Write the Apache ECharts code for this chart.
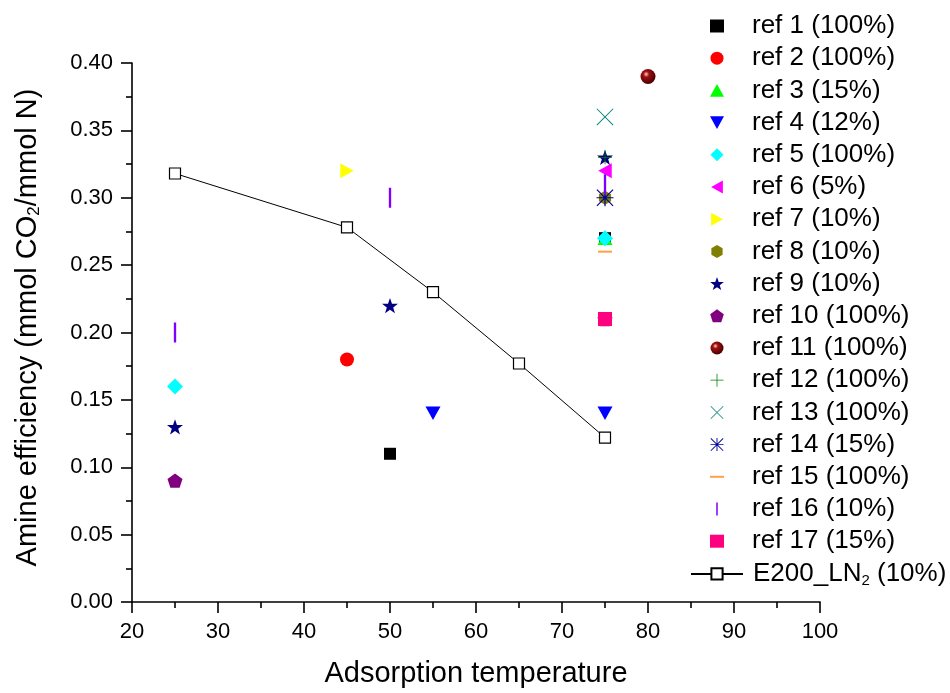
<!DOCTYPE html>
<html>
<head>
    <meta charset="utf-8">
    <script src="https://cdn.jsdelivr.net/npm/echarts@6/dist/echarts.min.js"></script>
    <style type="text/css">
        html, body { width: 100%; height: 100%; margin: 0; background: #fff; }
        #chart_main { width: 950px; height: 693px; }
    </style>
</head>
<body>
<div id="chart_main"></div>
<script type="text/javascript">
    // series data, [temperature, amine efficiency]
    var ref1 = [[50, 0.11], [75, 0.27]];
    var ref2 = [[45, 0.18]];
    var ref3 = [[75, 0.27]];
    var ref4 = [[55, 0.14], [75, 0.14]];
    var ref5 = [[25, 0.16], [75, 0.27]];
    var ref6 = [[75, 0.32]];
    var ref7 = [[45, 0.32]];
    var ref8 = [[75, 0.30]];
    var ref9 = [[25, 0.13], [50, 0.22], [75, 0.33]];
    var ref10 = [[25, 0.09], [75, 0.21]];
    var ref11 = [[80, 0.39]];
    var ref12 = [[75, 0.33]];
    var ref13 = [[75, 0.36]];
    var ref14 = [[75, 0.30]];
    var ref15 = [[75, 0.26]];
    var ref16 = [[25, 0.20], [50, 0.30], [75, 0.31]];
    var ref17 = [[75, 0.21]];
    var e200Temp = [25, 45, 55, 65, 75];
    var e200Eff = [0.318, 0.278, 0.230, 0.177, 0.122];

    var refNames = ['ref 1 (100%)', 'ref 2 (100%)', 'ref 3 (15%)', 'ref 4 (12%)', 'ref 5 (100%)',
        'ref 6 (5%)', 'ref 7 (10%)', 'ref 8 (10%)', 'ref 9 (10%)', 'ref 10 (100%)',
        'ref 11 (100%)', 'ref 12 (100%)', 'ref 13 (100%)', 'ref 14 (15%)', 'ref 15 (100%)',
        'ref 16 (10%)', 'ref 17 (15%)'];
    var lineName = 'E200_LN2 (10%)';

    var xTicks = [20, 100, 10];
    var yTicks = [0, 0.40, 0.05];

    // marker shapes
    var starPath = 'path://M10,0L12.35,6.76L19.51,6.91L13.8,11.24L15.88,18.09L10,14L4.12,18.09L6.2,11.24L0.49,6.91L7.65,6.76Z';
    var hexPath = 'path://M10,0L18.66,5L18.66,15L10,20L1.34,15L1.34,5Z';
    var pentPath = 'path://M10,0L19.51,6.91L15.88,18.09L4.12,18.09L0.49,6.91Z';
    var plusPath = 'path://M9.4,0h1.2v20h-1.2zM0,9.4h20v1.2h-20z';
    var crossPath = 'path://M0,0.8L0.8,0L20,19.2L19.2,20ZM19.2,0L20,0.8L0.8,20L0,19.2Z';
    var asteriskPath = 'path://M9.3,0h1.4v20h-1.4zM0,9.3h20v1.4h-20zM0,1L1,0L20,19L19,20ZM19,0L20,1L1,20L0,19Z';
    var upPath = 'path://M5,0L10,9L0,9Z';
    var downPath = 'path://M0,0L10,0L5,9Z';
    var leftPath = 'path://M0,5L9,0L9,10Z';
    var rightPath = 'path://M0,0L9,5L0,10Z';
    var diamondPath = 'path://M5,0L10,5L5,10L0,5Z';
    var dashPath = 'path://M0,0h10v1.4h-10z';
    var vbarPath = 'path://M0,0h1.4v12h-1.4z';

    var sphere = {
        type: 'radial', x: 0.38, y: 0.35, r: 0.65,
        colorStops: [{offset: 0, color: '#ffd0d0'}, {offset: 0.3, color: '#a01010'}, {offset: 1, color: '#4a0000'}]
    };

    var refStyle = [
        ['rect', 12, '#000000'],
        ['circle', 14, '#ff0000'],
        [upPath, 15, '#00ff00'],
        [downPath, 15, '#0000ff'],
        [diamondPath, 16, '#00ffff'],
        [leftPath, 15, '#ff00ff'],
        [rightPath, 15, '#ffff00'],
        [hexPath, 14, '#808000'],
        [starPath, 16, '#000080'],
        [pentPath, 15, '#800080'],
        ['circle', 15, sphere],
        [plusPath, 14, '#008000'],
        [crossPath, 17, '#008080'],
        [asteriskPath, 17, '#0000a0'],
        [dashPath, 14, '#ffa040'],
        [vbarPath, 20, '#8000ff'],
        ['rect', 14, '#ff0080']
    ];
    var refData = [ref1, ref2, ref3, ref4, ref5, ref6, ref7, ref8, ref9, ref10,
        ref11, ref12, ref13, ref14, ref15, ref16, ref17];

    var series = [];
    for (var i = 0; i < refData.length; i++) {
        series.push({
            name: refNames[i],
            type: 'scatter',
            symbol: refStyle[i][0],
            symbolSize: refStyle[i][1],
            symbolKeepAspect: true,
            itemStyle: {color: refStyle[i][2], opacity: 1},
            data: refData[i]
        });
    }
    series.push({
        name: lineName,
        type: 'line',
        symbol: 'rect',
        symbolSize: 11,
        showAllSymbol: true,
        lineStyle: {color: '#000', width: 1},
        itemStyle: {color: '#fff', borderColor: '#000', borderWidth: 1.2},
        data: e200Temp.map(function (t, k) { return [t, e200Eff[k]]; }),
        z: 1
    });

    var fontFam = 'Liberation Sans, Arial, sans-serif';
    var rowH = 32.2;
    var legendText = {
        fontFamily: fontFam, fontSize: 26, color: '#000', lineHeight: 28,
        rich: {sub: {fontFamily: fontFam, fontSize: 15, lineHeight: 28, padding: [14, 0, 0, 0]}}
    };
    var option = {
        animation: false,
        backgroundColor: '#fff',
        grid: {left: 132, right: 130, top: 63, bottom: 86},
        legend: [{
            orient: 'vertical',
            left: 710, top: 12, padding: 0,
            itemWidth: 14, itemHeight: 13,
            itemGap: rowH - 28,
            data: refNames,
            textStyle: Object.assign({padding: [0, 0, 0, 23]}, legendText)
        }, {
            orient: 'vertical',
            left: 690, top: 12 + 17 * rowH, padding: 0,
            itemWidth: 52, itemHeight: 14,
            data: [lineName],
            formatter: function () { return 'E200_LN{sub|2} (10%)'; },
            textStyle: Object.assign({padding: [0, 0, 0, 5]}, legendText)
        }],
        xAxis: {
            type: 'value',
            min: xTicks[0], max: xTicks[1], interval: xTicks[2],
            name: 'Adsorption temperature',
            nameLocation: 'middle', nameGap: 57,
            nameTextStyle: {fontFamily: fontFam, fontSize: 29, color: '#000'},
            axisLine: {lineStyle: {color: '#000', width: 1.6}},
            axisTick: {length: 11, lineStyle: {width: 1.6}},
            minorTick: {show: true, splitNumber: 2, length: 6, lineStyle: {color: '#000', width: 1.6}},
            splitLine: {show: false},
            axisLabel: {fontFamily: fontFam, fontSize: 22, color: '#000', margin: 19}
        },
        yAxis: {
            type: 'value',
            min: yTicks[0], max: yTicks[1], interval: yTicks[2],
            name: 'Amine efficiency (mmol CO{sub|2}/mmol N)',
            nameLocation: 'middle', nameGap: 89,
            nameTextStyle: {
                fontFamily: fontFam, fontSize: 29, color: '#000',
                padding: [0, 0, 0, 10],
                rich: {sub: {fontFamily: fontFam, fontSize: 17, padding: [14, 0, 0, 0]}}
            },
            axisLine: {show: true, lineStyle: {color: '#000', width: 1.6}},
            axisTick: {show: true, length: 11, lineStyle: {width: 1.6}},
            minorTick: {show: true, splitNumber: 2, length: 6, lineStyle: {color: '#000', width: 1.6}},
            splitLine: {show: false},
            axisLabel: {
                fontFamily: fontFam, fontSize: 22, color: '#000', margin: 19,
                formatter: function (v) { return v.toFixed(2); }
            }
        },
        series: series
    };

    var mainChart = echarts.init(document.getElementById('chart_main'));
    mainChart.setOption(option);
</script>
</body>
</html>
